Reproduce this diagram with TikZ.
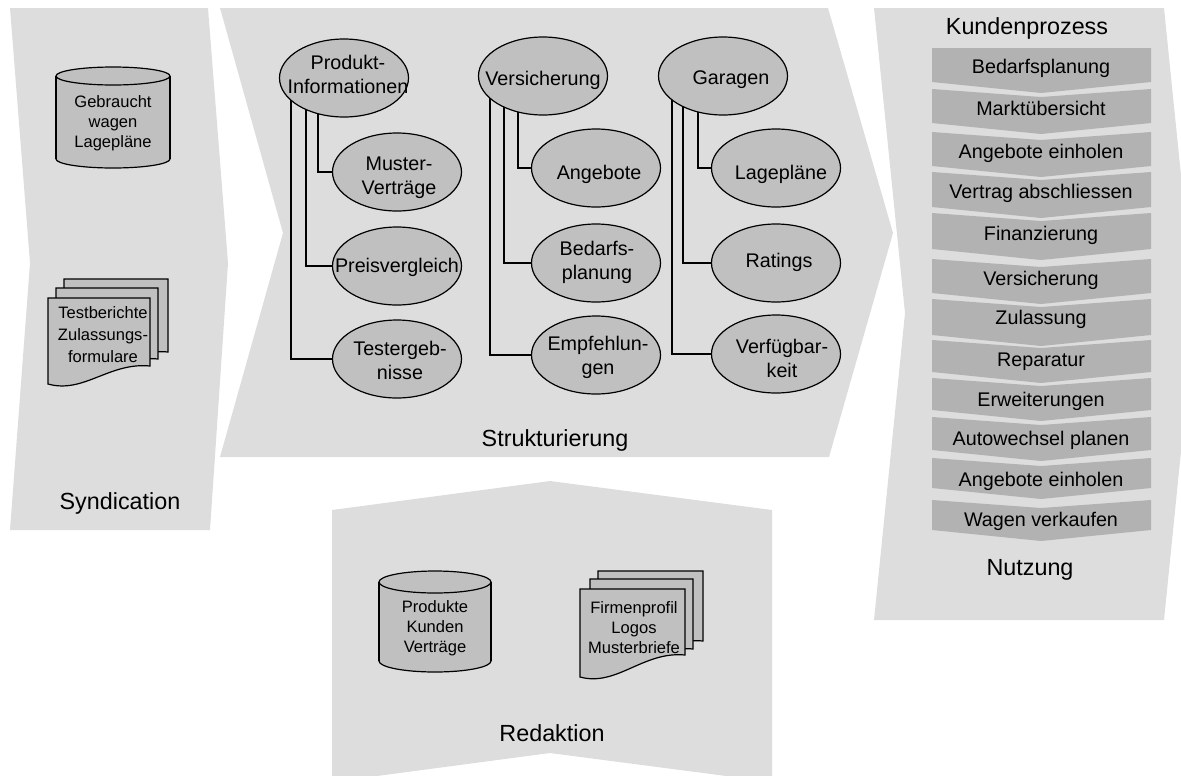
\documentclass[tikz,border=0pt]{standalone}
\usepackage{fontspec}
\setmainfont{Liberation Sans}
\usetikzlibrary{shapes.geometric}
\definecolor{panel}{HTML}{DDDDDD}
\definecolor{ellfill}{HTML}{C0C0C0}
\definecolor{barfill}{HTML}{B2B2B2}
\pgfdeclarelayer{bg}\pgfdeclarelayer{conn}\pgfsetlayers{bg,conn,main}
\newcommand\myBig{\fontsize{17.5}{21}\selectfont}
\newcommand\myMid{\fontsize{14.8}{18}\selectfont}
\newcommand\mySmall{\fontsize{12.4}{15}\selectfont}
\newcommand\mySmallB{\fontsize{12.4}{16.5}\selectfont}
\tikzset{
  ell/.style={ellipse, draw=black, fill=ellfill, line width=0.9pt,
    minimum width=96.75pt, minimum height=58.5pt, inner sep=0pt},
  etxt/.style={font=\myMid, align=center, inner sep=0pt},
  conn/.style={draw=black, line width=0.9pt},
  btxt/.style={font=\myMid, inner sep=0pt},
  ptxt/.style={font=\myBig, inner sep=0pt},
  stxt/.style={font=\mySmall, align=center, inner sep=0pt},
  store/.style={fill=ellfill, draw=black, line width=0.9pt},
}
\newcommand\docsheet[5]{%
  \filldraw[store] (#1,#2) -- ({#1+#3},#2) -- ({#1+#3},{#4-#5})
    .. controls ({#1+0.6*#3},{#4-#5-4}) and ({#1+0.35*#3},{#4+10}) .. (#1,#4) -- cycle;}
\begin{document}
\begin{tikzpicture}[x=0.75pt,y=-0.75pt]
\useasboundingbox (0,0) rectangle (1181,775);
\clip (0,0) rectangle (1181,775);

% panels
\begin{pgfonlayer}{bg}
\fill[panel] (10,8) -- (208,8) -- (228,263) -- (210,530) -- (10,530) -- (30,263) -- cycle;
\fill[panel] (220,8) -- (828,8) -- (893,233) -- (829,457) -- (220,457) -- (283,233) -- cycle;
\fill[panel] (874,8) -- (1164,8) -- (1195,313) -- (1164,620) -- (874,620) -- (905,313) -- cycle;
\fill[panel] (332,510) -- (550,481) -- (772,510) -- (772,782) -- (550,753) -- (332,782) -- cycle;
\end{pgfonlayer}

% Syndication
\draw[store] (113,159) ellipse [x radius=57, y radius=9];
\fill[ellfill] (56,76) rectangle (170,159);
\draw[line width=0.9pt] (56,76) -- (56,159) (170,76) -- (170,159);
\draw[store] (113,76) ellipse [x radius=57, y radius=9];
\node[stxt] (cyl1) at (113,123) {Gebraucht\\wagen\\Lagepläne};

\docsheet{64}{279}{104}{370}{18}
\docsheet{56}{288}{102}{377}{18}
\docsheet{48}{298}{102}{384}{18}
\node[stxt, font=\mySmallB] (doc1) at (103,335) {Testberichte\\Zulassungs-\\formulare};
\node[ptxt] (syn) at (120,503) {Syndication};

% Strukturierung
\node[ell] (PI) at (344,78) {};
\node[etxt] at (348,74) {Produkt-\\Informationen};
\node[ell] (MV) at (397,172) {};
\node[etxt] at (399,178) {Muster-\\Verträge};
\node[ell] (PV) at (397,266) {};
\node[etxt] at (397,267) {Preisvergleich};
\node[ell] (TE) at (397,359) {};
\node[etxt] at (400,360) {Testergeb-\\nisse};

\node[ell] (VS) at (543,76) {};
\node[etxt] at (543,80) {Versicherung};
\node[ell] (AN) at (596,168) {};
\node[etxt] at (599,174) {Angebote};
\node[ell] (BP) at (596,263) {};
\node[etxt] at (597,262) {Bedarfs-\\planung};
\node[ell] (EM) at (596,355) {};
\node[etxt] at (598,357) {Empfehlun-\\gen};

\node[ell] (GA) at (723,76) {};
\node[etxt] at (731,80) {Garagen};
\node[ell] (LP) at (776,168) {};
\node[etxt] at (781,174) {Lagepläne};
\node[ell] (RA) at (776,263) {};
\node[etxt] at (779,262) {Ratings};
\node[ell] (VF) at (776,354) {};
\node[etxt] at (782,358) {Verfügbar-\\keit};

\begin{pgfonlayer}{conn}
\draw[conn] (PI) ++(-26,0) |- (MV.west);
\draw[conn] (PI) ++(-38,0) |- (PV.west);
\draw[conn] (PI) ++(-53,0) |- (TE.west);
\draw[conn] (VS) ++(-25,0) |- (AN.west);
\draw[conn] (VS) ++(-39,0) |- (BP.west);
\draw[conn] (VS) ++(-53,0) |- (EM.west);
\draw[conn] (GA) ++(-25,0) |- (LP.west);
\draw[conn] (GA) ++(-40,0) |- (RA.west);
\draw[conn] (GA) ++(-51,0) |- (VF.west);
\end{pgfonlayer}

\node[ptxt] (str) at (555,440) {Strukturierung};

% Nutzung
\node[ptxt] (kp) at (1027,28) {Kundenprozess};
\foreach \t/\n/\b/\txt/\ty [count=\i] in {
  48/0/82/Bedarfsplanung/68,
  89/8/123/Marktübersicht/108,
  132/8/166/Angebote einholen/153,
  172/8/207/Vertrag abschliessen/193,
  213/8/249/Finanzierung/235,
  259/8/293/Versicherung/280,
  299/8/335/Zulassung/319,
  340/8/372/Reparatur/362,
  378/8/410/Erweiterungen/401,
  417/8/450/Autowechsel planen/440,
  458/8/488/Angebote einholen/481,
  500/8/530/Wagen verkaufen/521}{
  \fill[barfill] (932,\t) -- (1041,\t+\n) -- (1151,\t) -- (1151,\b) -- (1041,\b+11) -- (932,\b) -- cycle;
  \node[btxt] (bar\i) at (1041,\ty) {\txt};
}
\node[ptxt] (nu) at (1030,570) {Nutzung};

% Redaktion
\draw[store] (435,661) ellipse [x radius=56, y radius=11];
\fill[ellfill] (379,582) rectangle (491,661);
\draw[line width=0.9pt] (379,582) -- (379,661) (491,582) -- (491,661);
\draw[store] (435,582) ellipse [x radius=56, y radius=11];
\node[stxt] (cyl2) at (435,628) {Produkte\\Kunden\\Verträge};

\docsheet{598}{571}{105}{659}{18}
\docsheet{590}{579}{103}{667}{18}
\docsheet{580}{589}{105}{677}{22}
\node[stxt] (doc2) at (634,628) {Firmenprofil\\Logos\\Musterbriefe};
\node[ptxt] (red) at (552,733) {Redaktion};
\end{tikzpicture}
\end{document}
